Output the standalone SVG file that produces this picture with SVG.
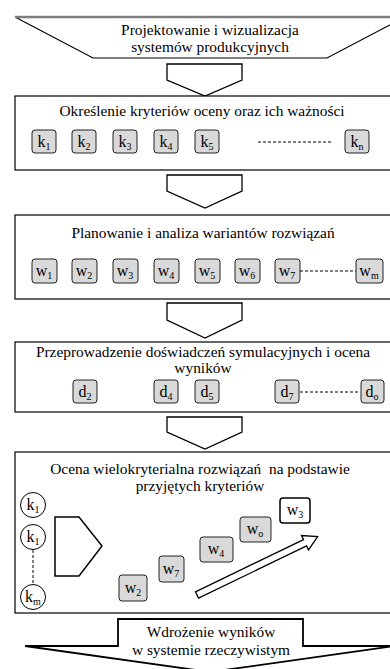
<svg xmlns="http://www.w3.org/2000/svg" width="390" height="669" viewBox="0 0 390 669">
<style>
.t{font-family:"Liberation Serif","DejaVu Serif","Times New Roman",serif;font-size:15.4px;fill:#000;text-anchor:middle}
.lbl{font-family:"Liberation Serif","DejaVu Serif","Times New Roman",serif;font-size:16px;fill:#000;text-anchor:middle}
.sub{font-size:10px}
.frame{fill:#fff;stroke:#000;stroke-width:1.2}
.chev{fill:#fff;stroke:#000;stroke-width:1.3}
.sb{fill:#d9d9d9;stroke:#222;stroke-width:1}
.dash{stroke:#000;stroke-width:1;stroke-dasharray:3 2;fill:none}
</style>
<rect width="390" height="669" fill="#fff"/>

<g id="start">
<path d="M15,17 L93,58 H327 L405,17" fill="#fff" stroke="#000" stroke-width="1.2"/>
<line x1="15" y1="17" x2="395" y2="17" stroke="#7f7f7f" stroke-width="2.5"/>
<text class="t" x="210" y="35">Projektowanie i wizualizacja</text>
<text class="t" x="210" y="52">systemów produkcyjnych</text>
</g>

<g id="connectors">
<path class="chev" d="M167,64 V80 L205,96 L242,80 V64 Z"/>
<path class="chev" d="M167,175 V191 L205,208 L242,191 V175 Z"/>
<path class="chev" d="M167,303 V320 L205,338 L242,320 V303 Z"/>
<path class="chev" d="M167,417 V432 L205,449 L242,432 V417 Z"/>
</g>

<g id="box1">
<rect class="frame" x="15" y="96" width="395" height="74"/>
<text class="t" x="202" y="116">Określenie kryteriów oceny oraz ich ważności</text>
<rect class="sb" x="32" y="130" width="24" height="23" rx="3"/>
<text class="lbl" x="44" y="147">k<tspan class="sub" dy="2.5">1</tspan></text>
<rect class="sb" x="72" y="130" width="24" height="23" rx="3"/>
<text class="lbl" x="84" y="147">k<tspan class="sub" dy="2.5">2</tspan></text>
<rect class="sb" x="113" y="130" width="24" height="23" rx="3"/>
<text class="lbl" x="125" y="147">k<tspan class="sub" dy="2.5">3</tspan></text>
<rect class="sb" x="154" y="130" width="24" height="23" rx="3"/>
<text class="lbl" x="166" y="147">k<tspan class="sub" dy="2.5">4</tspan></text>
<rect class="sb" x="195" y="130" width="24" height="23" rx="3"/>
<text class="lbl" x="207" y="147">k<tspan class="sub" dy="2.5">5</tspan></text>
<line class="dash" x1="258" y1="142" x2="333" y2="142"/>
<rect class="sb" x="345" y="130" width="24" height="23" rx="3"/>
<text class="lbl" x="357" y="147">k<tspan class="sub" dy="2.5">n</tspan></text>
</g>

<g id="box2">
<rect class="frame" x="15" y="215" width="395" height="84"/>
<text class="t" x="203" y="238">Planowanie i analiza wariantów rozwiązań</text>
<rect class="sb" x="32" y="259" width="25" height="24" rx="3"/>
<text class="lbl" x="44" y="276">w<tspan class="sub" dy="2.5">1</tspan></text>
<rect class="sb" x="72" y="259" width="25" height="24" rx="3"/>
<text class="lbl" x="84" y="276">w<tspan class="sub" dy="2.5">2</tspan></text>
<rect class="sb" x="113" y="259" width="25" height="24" rx="3"/>
<text class="lbl" x="125" y="276">w<tspan class="sub" dy="2.5">3</tspan></text>
<rect class="sb" x="154" y="259" width="25" height="24" rx="3"/>
<text class="lbl" x="166" y="276">w<tspan class="sub" dy="2.5">4</tspan></text>
<rect class="sb" x="195" y="259" width="25" height="24" rx="3"/>
<text class="lbl" x="207" y="276">w<tspan class="sub" dy="2.5">5</tspan></text>
<rect class="sb" x="235" y="259" width="25" height="24" rx="3"/>
<text class="lbl" x="247" y="276">w<tspan class="sub" dy="2.5">6</tspan></text>
<rect class="sb" x="275" y="259" width="25" height="24" rx="3"/>
<text class="lbl" x="287" y="276">w<tspan class="sub" dy="2.5">7</tspan></text>
<line class="dash" x1="300" y1="271" x2="356" y2="271"/>
<rect class="sb" x="356" y="259" width="27" height="24" rx="3"/>
<text class="lbl" x="369" y="276">w<tspan class="sub" dy="2.5">m</tspan></text>
</g>

<g id="box3">
<rect class="frame" x="15" y="342" width="395" height="70"/>
<text class="t" x="203" y="357">Przeprowadzenie doświadczeń symulacyjnych i ocena</text>
<text class="t" x="203" y="373">wyników</text>
<rect class="sb" x="73" y="380" width="24" height="23" rx="3"/>
<text class="lbl" x="85" y="397">d<tspan class="sub" dy="2.5">2</tspan></text>
<rect class="sb" x="154" y="380" width="24" height="23" rx="3"/>
<text class="lbl" x="166" y="397">d<tspan class="sub" dy="2.5">4</tspan></text>
<rect class="sb" x="195" y="380" width="24" height="23" rx="3"/>
<text class="lbl" x="207" y="397">d<tspan class="sub" dy="2.5">5</tspan></text>
<rect class="sb" x="275" y="380" width="24" height="23" rx="3"/>
<text class="lbl" x="287" y="397">d<tspan class="sub" dy="2.5">7</tspan></text>
<line class="dash" x1="300" y1="392" x2="360" y2="392"/>
<rect class="sb" x="361" y="380" width="23" height="23" rx="3"/>
<text class="lbl" x="372" y="397">d<tspan class="sub" dy="2.5">o</tspan></text>
</g>

<g id="box4">
<rect class="frame" x="15" y="452" width="395" height="161"/>
<text class="t" x="200" y="474" xml:space="preserve">Ocena wielokryterialna rozwiązań  na podstawie</text>
<text class="t" x="200" y="491">przyjętych kryteriów</text>
<circle cx="33" cy="505" r="12.5" fill="#fff" stroke="#000" stroke-width="1"/>
<text class="lbl" x="33" y="510">k<tspan class="sub" dy="2.5">1</tspan></text>
<circle cx="33" cy="537" r="12.5" fill="#fff" stroke="#000" stroke-width="1"/>
<text class="lbl" x="33" y="542">k<tspan class="sub" dy="2.5">1</tspan></text>
<line class="dash" x1="33" y1="550" x2="33" y2="584"/>
<circle cx="33" cy="597" r="12.5" fill="#fff" stroke="#000" stroke-width="1"/>
<text class="lbl" x="33" y="602">k<tspan class="sub" dy="2.5">m</tspan></text>
<path d="M55,517 H79 L102,546 L79,576 H55 Z" fill="#fff" stroke="#000" stroke-width="1.5"/>
<rect class="sb" x="119" y="575" width="28" height="26" rx="3"/>
<text class="lbl" x="133" y="593">w<tspan class="sub" dy="2.5">2</tspan></text>
<rect class="sb" x="159" y="556" width="25" height="26" rx="3"/>
<text class="lbl" x="171" y="574">w<tspan class="sub" dy="2.5">7</tspan></text>
<rect class="sb" x="200" y="537" width="33" height="25" rx="3"/>
<text class="lbl" x="216" y="554">w<tspan class="sub" dy="2.5">4</tspan></text>
<rect class="sb" x="240" y="517" width="31" height="25" rx="3"/>
<text class="lbl" x="255" y="534">w<tspan class="sub" dy="2.5">o</tspan></text>
<rect x="280" y="498" width="30" height="25" rx="3" fill="#fff" stroke="#000" stroke-width="1.5"/>
<text class="lbl" x="295" y="515">w<tspan class="sub" dy="2.5">3</tspan></text>
<path transform="translate(197,595) rotate(-25.8)" d="M0,-3.5 H120 V-8 L134,0 L120,8 V3.5 H0 Z" fill="#fff" stroke="#000" stroke-width="1.3"/>
</g>

<g id="end">
<path d="M118,619 H303 V646 H395 L210,672 L25,646 H118 Z" fill="#fff" stroke="#000" stroke-width="1.8"/>
<text class="t" x="211" y="637">Wdrożenie wyników</text>
<text class="t" x="211" y="655">w systemie rzeczywistym</text>
</g>
</svg>
